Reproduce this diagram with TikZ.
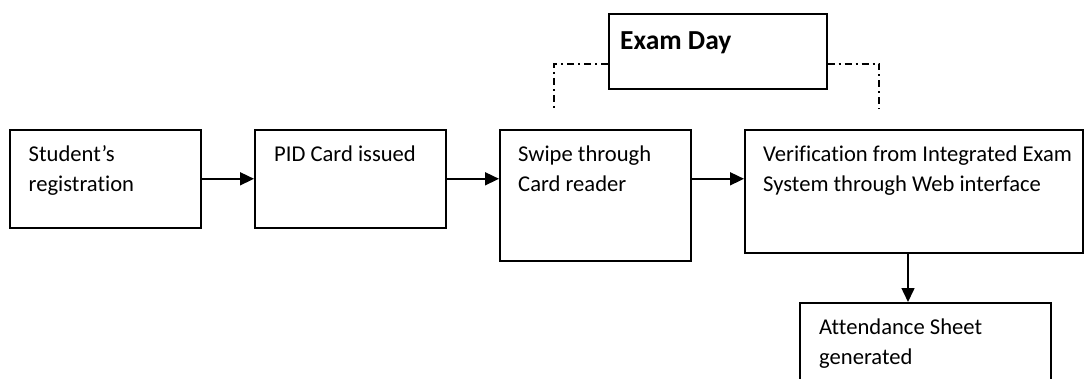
\documentclass[tikz,border=0pt]{standalone}
\usepackage{fontspec}
\setmainfont[Ligatures=NoCommon]{Carlito}
\usetikzlibrary{arrows.meta,calc}

\tikzset{
  stagebox/.style={draw=black, line width=1.6pt, rectangle, inner sep=0pt,
    anchor=north west, fill=white},
  caption/.style={anchor=base west, inner sep=0pt,
    font=\fontsize{22.6}{30}\selectfont},
  headline/.style={anchor=base west, inner sep=0pt,
    font=\fontsize{27.5}{32}\selectfont\bfseries},
  flow/.style={line width=1.6pt, -{Triangle[length=14pt,width=13pt]}},
  dashdot/.style={line width=1.6pt,
    dash pattern=on 7pt off 4pt on 2pt off 4pt},
}

\begin{document}
\begin{tikzpicture}[x=1pt,y=-1pt]
  \clip (0,0) rectangle (1086,379);

  % process stages
  \node[stagebox, minimum width=191pt, minimum height=98pt]  (b1) at (9,129) {};
  \node[stagebox, minimum width=191pt, minimum height=98pt]  (b2) at (254,129) {};
  \node[stagebox, minimum width=191pt, minimum height=131pt] (b3) at (499,129) {};
  \node[stagebox, minimum width=338pt, minimum height=123pt] (b4) at (744,129) {};
  \node[stagebox, minimum width=251pt, minimum height=100pt] (b5) at (799,302) {};
  \node[stagebox, minimum width=218pt, minimum height=75pt]  (ex) at (608,13) {};

  % stage captions
  \node[caption] (t1) at ($(b1.north west)+(19.5,33)$)
    {\parbox[t]{180pt}{\raggedright Student’s\\registration}};
  \node[caption] (t2) at ($(b2.north west)+(20,33)$)
    {\parbox[t]{180pt}{\raggedright PID Card issued}};
  \node[caption] (t3) at ($(b3.north west)+(19,33)$)
    {\parbox[t]{180pt}{\raggedright Swipe through\\Card reader}};
  \node[caption] (t4) at ($(b4.north west)+(19,33)$)
    {\parbox[t]{330pt}{\raggedright Verification from Integrated Exam\\System through Web interface}};
  \node[caption] (t5) at ($(b5.north west)+(20,32)$)
    {\parbox[t]{240pt}{\raggedright Attendance Sheet\\generated}};
  \node[headline] (tx) at ($(ex.north west)+(12,37)$) {Exam Day};

  % flow between stages
  \draw[flow] (b1.east) -- (b2.west);
  \draw[flow] (b2.east) -- (b2.east -| b3.west);
  \draw[flow] (b3.east |- b1.east) -- (b4.west |- b1.east);
  \coordinate (down) at ($(b4.south west)+(164,0)$);
  \draw[flow] (down) -- (down |- b5.north);

  % exam-day brackets
  \coordinate (dl) at (554,109);
  \coordinate (dr) at (879,109);
  \draw[dashdot] ([yshift=-12.5pt]ex.west) -| (dl);
  \draw[dashdot] ([yshift=-12.5pt]ex.east) -| (dr);
\end{tikzpicture}
\end{document}
